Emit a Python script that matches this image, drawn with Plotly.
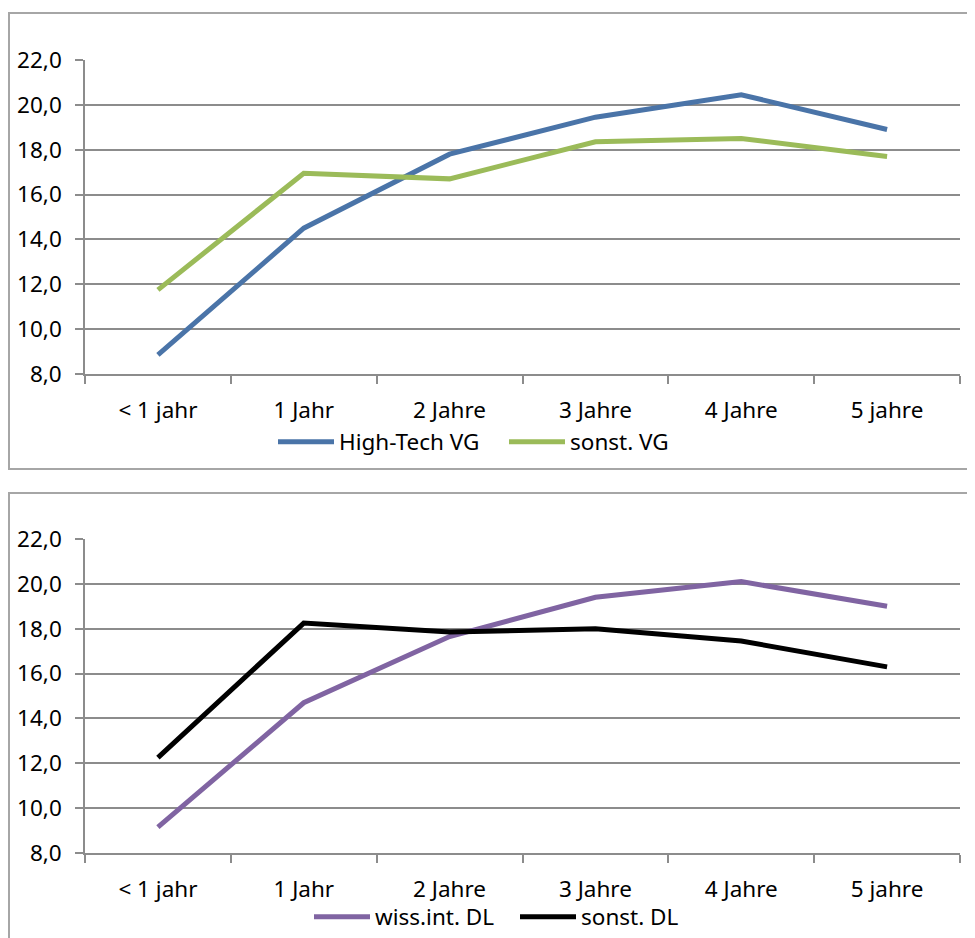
import plotly.graph_objects as go

categories = ["< 1 jahr", "1 Jahr", "2 Jahre", "3 Jahre", "4 Jahre", "5 jahre"]
high_tech_vg = [8.85, 14.5, 17.8, 19.45, 20.45, 18.9]
sonst_vg = [11.75, 16.95, 16.7, 18.35, 18.5, 17.7]
wiss_int_dl = [9.15, 14.7, 17.65, 19.4, 20.1, 19.0]
sonst_dl = [12.25, 18.25, 17.85, 18.0, 17.45, 16.3]
y_ticks = [8, 10, 12, 14, 16, 18, 20, 22]

# page body has an 8px margin; figure fills the rest of the window
OFF = 8
W, H = 975 - OFF, 938 - OFF
FONT = "Noto Sans"
FS = 22.5
GRID = "#8C8C8C"

fig = go.Figure()

def px_x(p):
    return (p - OFF) / W

def px_y(p):
    return 1 - (p - OFF) / H

series = [
    ("High-Tech VG", high_tech_vg, "#4A74A8", "x", "y", "legend"),
    ("sonst. VG", sonst_vg, "#9BBB59", "x", "y", "legend"),
    ("wiss.int. DL", wiss_int_dl, "#8064A2", "x2", "y2", "legend2"),
    ("sonst. DL", sonst_dl, "#000000", "x2", "y2", "legend2"),
]
for name, vals, col, xa, ya, lg in series:
    fig.add_trace(go.Scatter(
        x=categories, y=vals, name=name, mode="lines",
        line=dict(color=col, width=5),
        xaxis=xa, yaxis=ya, legend=lg,
    ))

xaxis_common = dict(
    type="category", range=[-0.5, 5.5], showgrid=False,
    showline=True, linecolor=GRID, linewidth=1.5,
    ticks="outside", tickson="boundaries", ticklen=8, tickcolor=GRID, tickwidth=1.5,
    tickfont=dict(family=FONT, size=FS, color="#000"),
    ticklabelstandoff=15,
    zeroline=False, fixedrange=True,
)
yaxis_common = dict(
    range=[8, 22], tickvals=y_ticks, tickformat=".1f",
    showgrid=True, gridcolor=GRID, gridwidth=1.5,
    showline=True, linecolor=GRID, linewidth=1.5,
    ticks="outside", ticklen=8, tickcolor=GRID, tickwidth=1.5,
    tickfont=dict(family=FONT, size=FS, color="#000"),
    ticklabelstandoff=9,
    zeroline=False, fixedrange=True,
)

x_dom = [px_x(85), px_x(960)]
legend_common = dict(
    orientation="h", xanchor="left", yanchor="middle",
    itemwidth=56, entrywidthmode="pixels",
    font=dict(family=FONT, size=FS), bgcolor="rgba(0,0,0,0)", tracegroupgap=0,
)
fig.update_layout(
    width=W, height=H,
    margin=dict(l=0, r=0, t=0, b=0, autoexpand=False),
    paper_bgcolor="white", plot_bgcolor="white",
    separators=",.",
    font=dict(family=FONT, size=FS, color="#000"),
    xaxis=dict(xaxis_common, domain=x_dom, anchor="y"),
    yaxis=dict(yaxis_common, domain=[px_y(374), px_y(60)], anchor="x"),
    xaxis2=dict(xaxis_common, domain=x_dom, anchor="y2"),
    yaxis2=dict(yaxis_common, domain=[px_y(853), px_y(539)], anchor="x2"),
    legend=dict(legend_common, x=px_x(273), y=px_y(442), entrywidth=160),
    legend2=dict(legend_common, x=px_x(309), y=px_y(917), entrywidth=135),
    showlegend=True,
)

# panel borders
fig.add_shape(type="rect", xref="paper", yref="paper",
              x0=px_x(9), x1=px_x(990), y0=px_y(469), y1=px_y(13),
              line=dict(color="#A6A6A6", width=2), layer="below")
fig.add_shape(type="rect", xref="paper", yref="paper",
              x0=px_x(9), x1=px_x(990), y0=px_y(960), y1=px_y(493),
              line=dict(color="#A6A6A6", width=2), layer="below")

fig.write_html("out.html")
